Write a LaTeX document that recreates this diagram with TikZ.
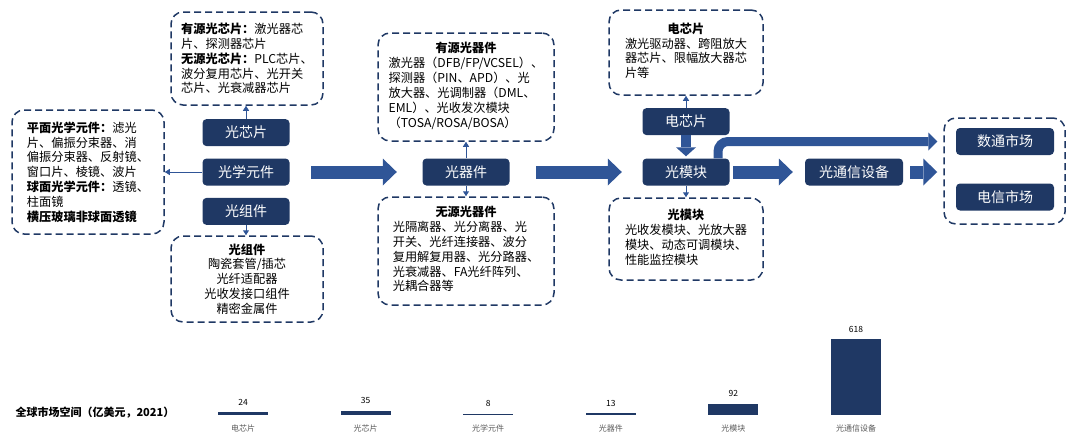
\documentclass[tikz,border=0pt]{standalone}
\usepackage{fontspec}
\newfontfamily\cjk{Noto Sans CJK SC}
\usepackage{tikz}
\usetikzlibrary{positioning,arrows.meta}

\definecolor{navy}{HTML}{1F3864}
\definecolor{flow}{HTML}{2F5597}
\definecolor{capgray}{HTML}{595959}

\begin{document}
\begin{tikzpicture}[
    x = 1pt, y = -1pt,
    font = \cjk,
    blk/.style = {fill=navy, text=white, minimum width=87pt, minimum height=27pt, rounded corners=4pt, inner sep=0pt, font=\cjk\fontsize{14}{16}\selectfont},
    note/.style = {draw=navy, line width=1.5pt, dash pattern=on 7pt off 4pt, rounded corners=12pt, align=left, inner sep=0pt, font=\cjk\fontsize{12.2}{14.8}\selectfont},
    lead/.style = {draw=flow, line width=1pt, -{Triangle[length=5pt,width=6pt]}},
    fat/.style = {draw=flow, line width=13pt, -{Triangle[length=14pt,width=27pt,line width=0pt]}},
    node distance = 12pt
]
\useasboundingbox (0,0) rectangle (1080,439);

% chain boxes
\node (opt) [blk] at (246,172) {光学元件};
\node (ochip) [blk, above=of opt] {光芯片};
\node (assy) [blk, below=of opt] {光组件};
\node (dev) [blk] at (466,172) {光器件};
\node (mod) [blk] at (686,172) {光模块};
\node (echip) [blk, above=23pt of mod] {电芯片};
\node (tele) [blk, minimum width=98pt] at (854,172) {光通信设备};
\node (mkt) [note, minimum width=121pt, minimum height=106pt] at (1004.5,171) {};
\node (dt) [blk, minimum width=98pt] at (1005,141.5) {数通市场};
\node (dx) [blk, minimum width=98pt] at (1005,197) {电信市场};

% notes
\node (ochipnote) [note, minimum width=152pt, minimum height=93pt] at (247,58.5)
    {\textbf{有源光芯片：}激光器芯\\片、探测器芯片\\\textbf{无源光芯片：}PLC芯片、\\波分复用芯片、光开关\\芯片、光衰减器芯片};
\node (optnote) [note, minimum width=152pt, minimum height=124pt] at (88,172)
    {\textbf{平面光学元件：}滤光\\片、偏振分束器、消\\偏振分束器、反射镜、\\窗口片、棱镜、波片\\\textbf{球面光学元件：}透镜、\\柱面镜\\\textbf{横压玻璃非球面透镜}};
\node (assynote) [note, align=center, minimum width=152pt, minimum height=86pt] at (247,279)
    {\textbf{光组件}\\陶瓷套管/插芯\\光纤适配器\\光收发接口组件\\精密金属件};
\node (actnote) [note, minimum width=176pt, minimum height=108pt] at (466,87)
    {\begin{tabular}{@{}l@{}}\multicolumn{1}{@{}c@{}}{\textbf{有源光器件}}\\
     激光器（DFB/FP/VCSEL）、\\探测器（PIN、APD）、光\\放大器、光调制器（DML、\\EML）、光收发次模块\\（TOSA/ROSA/BOSA）\end{tabular}};
\node (pasnote) [note, minimum width=176pt, minimum height=108pt] at (466,251)
    {\begin{tabular}{@{}l@{}}\multicolumn{1}{@{}c@{}}{\textbf{无源光器件}}\\
     光隔离器、光分离器、光\\开关、光纤连接器、波分\\复用解复用器、光分路器、\\光衰减器、FA光纤阵列、\\光耦合器等\end{tabular}};
\node (echipnote) [note, minimum width=154pt, minimum height=85pt] at (686,52.5)
    {\begin{tabular}{@{}l@{}}\multicolumn{1}{@{}c@{}}{\textbf{电芯片}}\\
     激光驱动器、跨阻放大\\器芯片、限幅放大器芯\\片等\end{tabular}};
\node (modnote) [note, minimum width=154pt, minimum height=82pt] at (686,239)
    {\begin{tabular}{@{}l@{}}\multicolumn{1}{@{}c@{}}{\textbf{光模块}}\\
     光收发模块、光放大器\\模块、动态可调模块、\\性能监控模块\end{tabular}};

% thin leads
\draw[lead] (ochip) -- (ochip |- ochipnote.south);
\draw[lead] (opt) -- (optnote.east);
\draw[lead] (assy) -- (assy |- assynote.north);
\draw[lead] (dev) -- (dev |- actnote.south);
\draw[lead] (dev) -- (dev |- pasnote.north);
\draw[lead] (echip) -- (echip |- echipnote.south);
\draw[lead] (mod) -- (mod |- modnote.north);

% block arrows
\draw[fat, shorten <=21.5pt, shorten >=25.5pt] (opt) -- (dev);
\draw[fat, shorten <=26.5pt, shorten >=20.5pt] (dev) -- (mod);
\draw[fat, shorten <=3.5pt, shorten >=12pt] (mod) -- (tele);
\draw[fat, shorten <=7pt, shorten >=6pt] (tele) -- (tele -| mkt.west);
\draw[draw=flow, line width=10pt, -{Triangle[length=9pt,width=20pt,line width=0pt]}, shorten >=2pt] (echip) -- (mod);
\draw[draw=flow, line width=9pt, rounded corners=10pt, -{Triangle[length=9pt,width=18pt,line width=0pt]}, shorten >=6pt]
    ([xshift=32pt]mod.north) |- (dt -| mkt.west);

% market size
\node (title) [anchor=west, font=\cjk\bfseries\fontsize{11}{13}\selectfont] at (12,413) {全球市场空间（亿美元，2021）};
\foreach \val/\cat [count=\i] in {24/电芯片, 35/光芯片, 8/光学元件, 13/光器件, 92/光模块, 618/光通信设备} {
    \pgfmathsetmacro\bx{243+(\i-1)*122.6}
    \pgfmathsetmacro\bh{max(\val*0.123,1.2)}
    \fill[navy] (\bx-25,415) rectangle (\bx+25,415-\bh);
    \node (v\i) [font=\cjk\fontsize{8.5}{10}\selectfont] at (\bx,415-\bh-10) {\val};
    \node (c\i) [text=capgray, font=\cjk\fontsize{8}{9}\selectfont] at (\bx,428) {\cat};
}
\end{tikzpicture}
\end{document}
